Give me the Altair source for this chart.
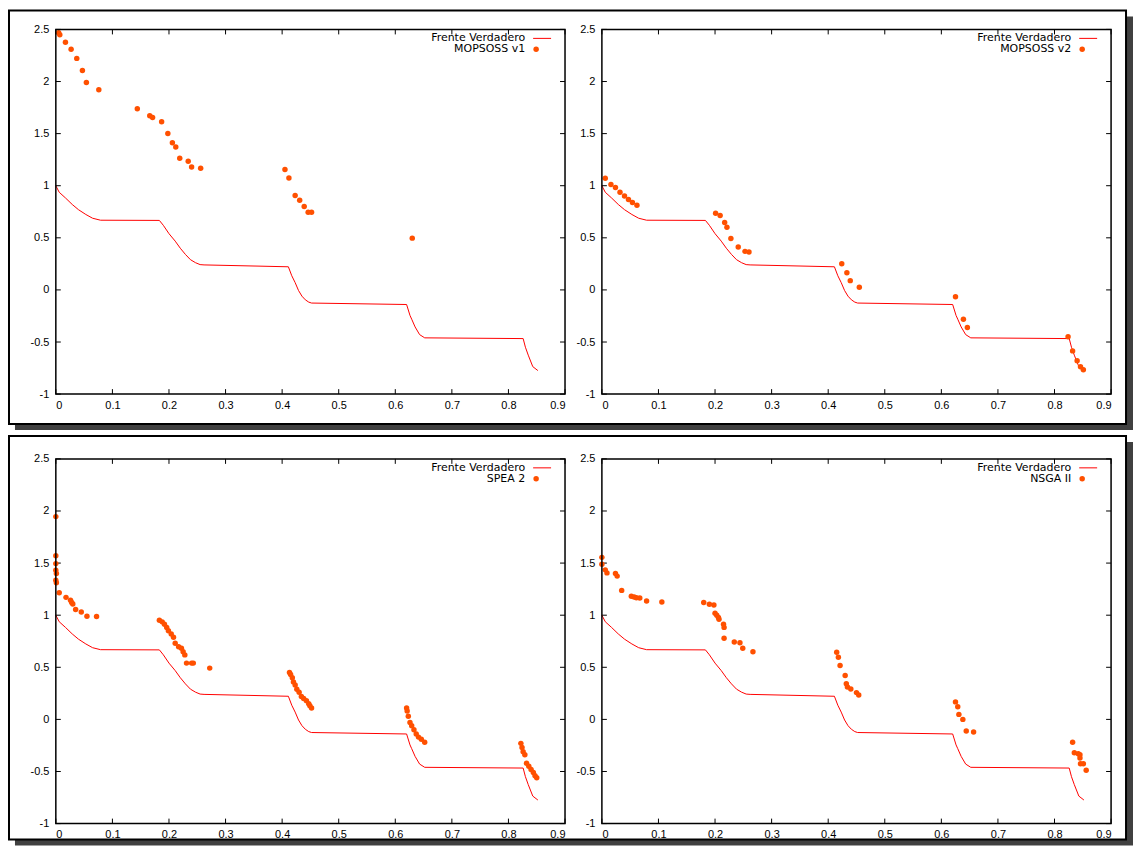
import altair as alt
import pandas as pd

# ---------------- data ----------------
x_ticks = [0, 0.1, 0.2, 0.3, 0.4, 0.5, 0.6, 0.7, 0.8, 0.9]
y_ticks = [-1, -0.5, 0, 0.5, 1, 1.5, 2, 2.5]

front_x = [0, 0.006, 0.017, 0.029, 0.040, 0.053, 0.065, 0.079, 0.183, 0.190, 0.200,
           0.211, 0.220, 0.229, 0.238, 0.247, 0.255, 0.262, 0.411, 0.417, 0.423, 0.429,
           0.435, 0.441, 0.447, 0.452, 0.620, 0.626, 0.629, 0.635, 0.643, 0.652, 0.826,
           0.830, 0.835, 0.843, 0.852]
front_y = [1.0, 0.937, 0.883, 0.820, 0.770, 0.724, 0.688, 0.669, 0.667, 0.620, 0.540,
           0.468, 0.400, 0.341, 0.290, 0.261, 0.243, 0.240, 0.222, 0.136, 0.070, -0.006,
           -0.060, -0.095, -0.117, -0.126, -0.140, -0.245, -0.281, -0.355, -0.429, -0.460, -0.467,
           -0.550, -0.626, -0.736, -0.774]

v1_x = [0.005, 0.007, 0.017, 0.027, 0.037, 0.047, 0.054, 0.076, 0.144, 0.166, 0.171,
        0.187, 0.198, 0.206, 0.212, 0.219, 0.234, 0.240, 0.256, 0.405, 0.412, 0.423,
        0.431, 0.439, 0.446, 0.452, 0.630]
v1_y = [2.468, 2.449, 2.376, 2.309, 2.222, 2.105, 1.990, 1.920, 1.738, 1.671, 1.655,
        1.614, 1.502, 1.413, 1.371, 1.263, 1.234, 1.179, 1.167, 1.155, 1.074, 0.906,
        0.860, 0.800, 0.745, 0.745, 0.497]

v2_x = [0.006, 0.016, 0.024, 0.032, 0.040, 0.047, 0.054, 0.062, 0.201, 0.209, 0.217,
        0.221, 0.228, 0.241, 0.253, 0.260, 0.424, 0.433, 0.439, 0.455, 0.625, 0.639,
        0.646, 0.824, 0.832, 0.840, 0.846, 0.851]
v2_y = [1.071, 1.011, 0.982, 0.937, 0.902, 0.867, 0.839, 0.813, 0.736, 0.714, 0.647,
        0.602, 0.494, 0.411, 0.370, 0.363, 0.251, 0.165, 0.089, 0.025, -0.065, -0.281,
        -0.361, -0.450, -0.585, -0.680, -0.738, -0.767]

spea_x = [0, 0, 0, 0, 0.001, 0, 0.001, 0.006, 0.018, 0.026, 0.028, 0.030, 0.035, 0.045,
          0.055, 0.072, 0.183, 0.188, 0.192, 0.196, 0.199, 0.204, 0.208, 0.211, 0.217,
          0.222, 0.225, 0.228, 0.231, 0.240, 0.243, 0.272,
          0.413, 0.415, 0.418, 0.420, 0.423, 0.426, 0.430, 0.434, 0.438, 0.443, 0.447,
          0.449, 0.452,
          0.620, 0.621, 0.623, 0.626, 0.629, 0.633, 0.637, 0.641, 0.646, 0.652,
          0.822, 0.824, 0.826, 0.829, 0.832, 0.836, 0.840, 0.844, 0.847, 0.850]
spea_y = [1.946, 1.571, 1.495, 1.431, 1.400, 1.336, 1.311, 1.216, 1.171, 1.143, 1.121,
          1.108, 1.054, 1.031, 0.990, 0.987, 0.952, 0.936, 0.914, 0.883, 0.850, 0.819,
          0.788, 0.730, 0.698, 0.683, 0.650, 0.619, 0.540, 0.540, 0.540, 0.492,
          0.450, 0.430, 0.400, 0.360, 0.330, 0.290, 0.260, 0.220, 0.200, 0.180, 0.150,
          0.130, 0.110,
          0.110, 0.080, 0.030, -0.030, -0.060, -0.100, -0.140, -0.170, -0.190, -0.220,
          -0.230, -0.270, -0.310, -0.340, -0.420, -0.450, -0.480, -0.510, -0.540, -0.560]

nsga_x = [0, 0, 0.006, 0.009, 0.024, 0.027, 0.035, 0.052, 0.057, 0.061, 0.067, 0.079,
          0.106, 0.180, 0.190, 0.198, 0.200, 0.203, 0.206, 0.207, 0.215, 0.216, 0.216,
          0.234, 0.244, 0.249, 0.267,
          0.415, 0.418, 0.421, 0.430, 0.432, 0.434, 0.440, 0.450, 0.454,
          0.625, 0.629, 0.631, 0.638, 0.644, 0.657,
          0.832, 0.835, 0.842, 0.845, 0.845, 0.846, 0.851, 0.856]
nsga_y = [1.555, 1.489, 1.435, 1.406, 1.400, 1.375, 1.238, 1.181, 1.175, 1.168, 1.165,
          1.136, 1.127, 1.121, 1.105, 1.098, 1.019, 1.000, 0.978, 0.962, 0.914, 0.883,
          0.778, 0.743, 0.736, 0.683, 0.650,
          0.645, 0.597, 0.517, 0.422, 0.343, 0.311, 0.292, 0.257, 0.235,
          0.168, 0.121, 0.048, 0.000, -0.111, -0.121,
          -0.219, -0.321, -0.330, -0.340, -0.371, -0.425, -0.425, -0.489]

series_names = ["MOPSOSS v1", "MOPSOSS v2", "SPEA 2", "NSGA II"]
front_name = "Frente Verdadero"

# ---------------- style ----------------
W, H = 511, 366
FONT = "Liberation Sans"
LEG_FONT = "DejaVu Sans"
RED = "#ff0000"
ORANGE = "#ff5000"
X_SCALE = alt.Scale(domain=[0, 0.9], nice=False, zero=False)
Y_SCALE = alt.Scale(domain=[-1, 2.5], nice=False, zero=False)
X_AXIS = alt.Axis(values=x_ticks, title=None, ticks=False, domain=False, grid=False,
                  labelExpr="'' + datum.value", labelPadding=5, labelFontSize=11,
                  labelFont=FONT, labelColor="black", zindex=1)
Y_AXIS = alt.Axis(values=y_ticks, title=None, ticks=False, domain=False, grid=False,
                  labelExpr="'' + datum.value", labelPadding=7, labelFontSize=11,
                  labelFont=FONT, labelColor="black", zindex=1)


def X(field):
    return alt.X(field, type="quantitative", scale=X_SCALE, axis=X_AXIS)


def Y(field):
    return alt.Y(field, type="quantitative", scale=Y_SCALE, axis=Y_AXIS)


def panel(name, px, py, frame):
    one = pd.DataFrame({"k": [0]})
    layers = []
    if frame is not None:
        top, bot = frame
        layers.append(alt.Chart(one).mark_rect(fill="#404040").encode(
            x=alt.value(-41), x2=alt.value(1081), y=alt.value(top + 6), y2=alt.value(bot + 6)))
        layers.append(alt.Chart(one).mark_rect(fill="white", stroke="black", strokeWidth=2).encode(
            x=alt.value(-47), x2=alt.value(1074), y=alt.value(top), y2=alt.value(bot)))
    front = pd.DataFrame({"x": front_x, "y": front_y})
    pts = pd.DataFrame({"x": px, "y": py})
    xt = pd.DataFrame({"v": x_ticks})
    yt = pd.DataFrame({"v": y_ticks})
    layers.append(alt.Chart(xt).mark_rule(color="black", strokeWidth=1).encode(
        x=X("v"), y=alt.value(H), y2=alt.value(H - 5)))
    layers.append(alt.Chart(xt).mark_rule(color="black", strokeWidth=1).encode(
        x=X("v"), y=alt.value(0), y2=alt.value(5)))
    layers.append(alt.Chart(yt).mark_rule(color="black", strokeWidth=1).encode(
        y=Y("v"), x=alt.value(0), x2=alt.value(5)))
    layers.append(alt.Chart(yt).mark_rule(color="black", strokeWidth=1).encode(
        y=Y("v"), x=alt.value(W), x2=alt.value(W - 5)))
    layers.append(alt.Chart(front).mark_line(color=RED, strokeWidth=1).encode(
        x=X("x"), y=Y("y")))
    layers.append(alt.Chart(pts).mark_circle(color=ORANGE, size=30, opacity=1).encode(
        x=X("x"), y=Y("y")))
    # plot frame
    layers.append(alt.Chart(one).mark_rect(fill=None, stroke="black", strokeWidth=1.5).encode(
        x=alt.value(0), x2=alt.value(W), y=alt.value(0), y2=alt.value(H)))
    # legend
    layers.append(alt.Chart(one).mark_text(text=front_name, align="right", baseline="middle",
                                           font=LEG_FONT, fontSize=11, color="black").encode(
        x=alt.value(471), y=alt.value(9)))
    layers.append(alt.Chart(one).mark_rule(color=RED, strokeWidth=1).encode(
        x=alt.value(479), x2=alt.value(497), y=alt.value(9)))
    layers.append(alt.Chart(one).mark_text(text=name, align="right", baseline="middle",
                                           font=LEG_FONT, fontSize=11, color="black").encode(
        x=alt.value(471), y=alt.value(20)))
    layers.append(alt.Chart(one).mark_circle(color=ORANGE, size=30, opacity=1).encode(
        x=alt.value(482), y=alt.value(20)))
    return alt.layer(*layers).properties(width=W, height=H)


p1 = panel(series_names[0], v1_x, v1_y, (-19, 396))
p2 = panel(series_names[1], v2_x, v2_y, None)
p3 = panel(series_names[2], spea_x, spea_y, (-23, 382))
p4 = panel(series_names[3], nsga_x, nsga_y, None)

chart = alt.concat(p1, p2, p3, p4, columns=2, bounds="flush",
                   spacing={"row": 65, "column": 37}).properties(
    padding=0, background="white"
).configure_view(stroke=None)

chart.save("out.html", embed_options={"renderer": "svg", "actions": False})
